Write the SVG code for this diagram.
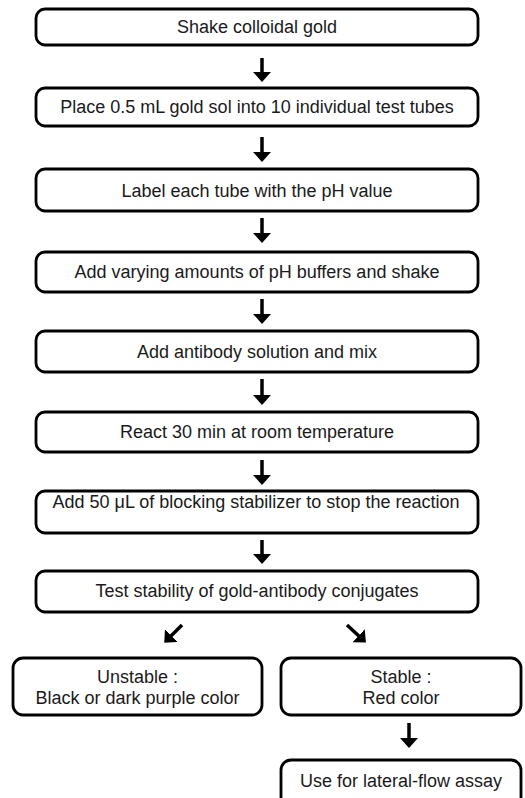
<svg xmlns="http://www.w3.org/2000/svg" width="525" height="798" viewBox="0 0 525 798">
<style>
.box{fill:#fff;stroke:#000;stroke-width:2.8}
.t{font-family:"Liberation Sans",Arial,sans-serif;font-size:18px;fill:#1a1a1a;text-anchor:middle}
.c{stroke:#000;stroke-width:3.5;fill:none}
</style>
<defs>
<marker id="ah" markerUnits="userSpaceOnUse" viewBox="0 0 10 18" markerWidth="10" markerHeight="18" refX="3" refY="9" orient="auto">
<path d="M0,0 L10,9 L0,18 z" fill="#000"/>
</marker>
</defs>
<rect width="525" height="798" fill="#fff"/>
<g id="n1"><rect class="box" x="36" y="9" width="442" height="36" rx="9"/><text class="t" x="257" y="33">Shake colloidal gold</text></g>
<g id="n2"><rect class="box" x="36" y="88" width="442" height="38" rx="9"/><text class="t" x="257" y="113">Place 0.5 mL gold sol into 10 individual test tubes</text></g>
<g id="n3"><rect class="box" x="36" y="169" width="442" height="42" rx="9"/><text class="t" x="257" y="197">Label each tube with the pH value</text></g>
<g id="n4"><rect class="box" x="36" y="252" width="442" height="40" rx="9"/><text class="t" x="257" y="278">Add varying amounts of pH buffers and shake</text></g>
<g id="n5"><rect class="box" x="36" y="331" width="442" height="41" rx="9"/><text class="t" x="257" y="358">Add antibody solution and mix</text></g>
<g id="n6"><rect class="box" x="36" y="412" width="442" height="40" rx="9"/><text class="t" x="257" y="438">React 30 min at room temperature</text></g>
<g id="n7"><rect class="box" x="36" y="491" width="442" height="42" rx="9"/><text class="t" x="256" y="508">Add 50 μL of blocking stabilizer to stop the reaction</text></g>
<g id="n8"><rect class="box" x="36" y="571" width="442" height="41" rx="9"/><text class="t" x="257" y="597">Test stability of gold-antibody conjugates</text></g>
<g id="n9"><rect class="box" x="13" y="658" width="249" height="57" rx="10"/><text class="t" x="137.5" y="683">Unstable :</text><text class="t" x="137.5" y="704">Black or dark purple color</text></g>
<g id="n10"><rect class="box" x="281" y="658" width="240" height="57" rx="10"/><text class="t" x="401" y="683">Stable :</text><text class="t" x="401" y="704">Red color</text></g>
<g id="n11"><rect class="box" x="281" y="760" width="240" height="50" rx="10"/><text class="t" x="401" y="787">Use for lateral-flow assay</text></g>
<g id="connectors">
<line class="c" x1="262" y1="58" x2="262" y2="75" marker-end="url(#ah)"/>
<line class="c" x1="262" y1="137" x2="262" y2="155" marker-end="url(#ah)"/>
<line class="c" x1="262" y1="218" x2="262" y2="236" marker-end="url(#ah)"/>
<line class="c" x1="262" y1="299" x2="262" y2="317" marker-end="url(#ah)"/>
<line class="c" x1="262" y1="379" x2="262" y2="398" marker-end="url(#ah)"/>
<line class="c" x1="262" y1="460" x2="262" y2="478" marker-end="url(#ah)"/>
<line class="c" x1="262" y1="540" x2="262" y2="557" marker-end="url(#ah)"/>
<line class="c" x1="182" y1="625" x2="169.2" y2="637.8" marker-end="url(#ah)"/>
<line class="c" x1="347" y1="625" x2="360.8" y2="637.8" marker-end="url(#ah)"/>
<line class="c" x1="409" y1="723" x2="409" y2="741" marker-end="url(#ah)"/>
</g>
</svg>
